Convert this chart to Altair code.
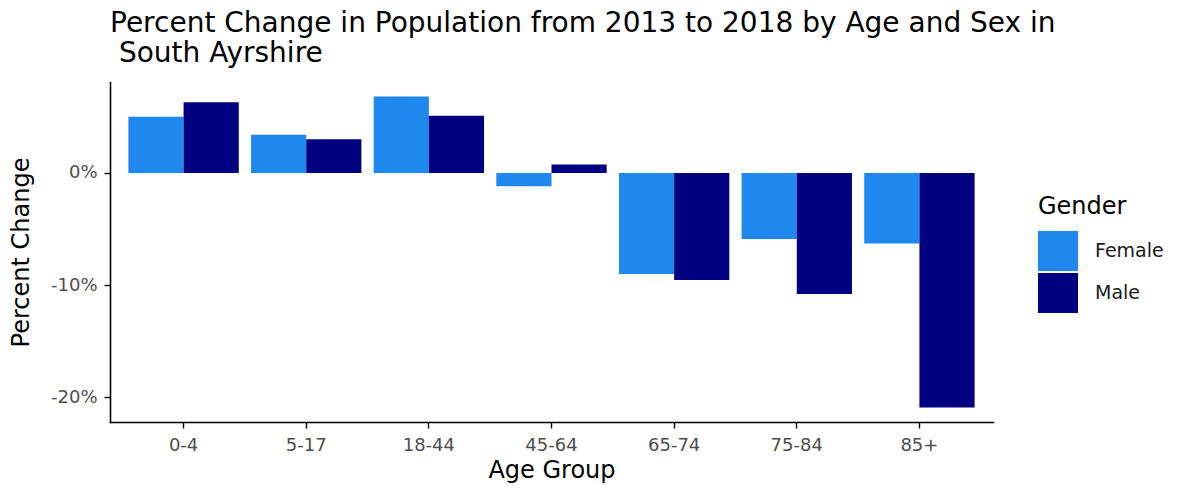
import altair as alt
import pandas as pd

age_groups = ["0-4", "5-17", "18-44", "45-64", "65-74", "75-84", "85+"]
female = [5.0, 3.4, 6.8, -1.2, -9.0, -5.9, -6.3]
male = [6.3, 3.0, 5.1, 0.75, -9.55, -10.8, -20.9]
genders = ["Female", "Male"]
colors = ["#1E88EE", "#000080"]

rows = []
for i, a in enumerate(age_groups):
    rows.append({"Age Group": a, "Gender": "Female", "Change": female[i]})
    rows.append({"Age Group": a, "Gender": "Male", "Change": male[i]})
df = pd.DataFrame(rows)

FONT = "DejaVu Sans"

chart = alt.Chart(df).mark_bar().encode(
    x=alt.X("Age Group:N", sort=age_groups,
            scale=alt.Scale(paddingInner=0.1, paddingOuter=0.15),
            axis=alt.Axis(title="Age Group", labelAngle=0, labelColor="#4D4D4D",
                          labelFontSize=18, titleFontSize=24, titleFontWeight="normal",
                          titleColor="black", domainColor="black", domainWidth=1.6,
                          tickColor="black", tickSize=6, tickWidth=1.4,
                          labelBaseline="alphabetic", labelPadding=22,
                          titleY=55, titleBaseline="alphabetic",
                          grid=False, labelFont=FONT, titleFont=FONT)),
    xOffset=alt.XOffset("Gender:N", sort=genders),
    y=alt.Y("Change:Q", scale=alt.Scale(domain=[-22.2, 8.1], nice=False, zero=False),
            axis=alt.Axis(title="Percent Change", values=[-20, -10, 0],
                          labelExpr="datum.value + '%'", labelColor="#4D4D4D",
                          labelFontSize=18, titleFontSize=24, titleFontWeight="normal",
                          titleColor="black", domainColor="black", domainWidth=1.6,
                          tickColor="black", tickSize=6, tickWidth=1.4, labelPadding=7,
                          titleX=-89, titleBaseline="middle",
                          grid=False, labelFont=FONT, titleFont=FONT)),
    color=alt.Color("Gender:N", sort=genders,
                    scale=alt.Scale(domain=genders, range=colors),
                    legend=alt.Legend(title="Gender", orient="none", legendX=928, legendY=113,
                                      symbolType="square", symbolSize=1600,
                                      symbolStrokeWidth=0, titleFontSize=24,
                                      titleFontWeight="normal", titleColor="black",
                                      labelFontSize=19, labelColor="#1a1a1a",
                                      labelOffset=17, rowPadding=2, titlePadding=12,
                                      labelFont=FONT, titleFont=FONT)),
).properties(
    width=883,
    height=340,
    title=alt.TitleParams(
        text=["Percent Change in Population from 2013 to 2018 by Age and Sex in", "\u200b South Ayrshire"],
        anchor="start", frame="group", fontSize=28, fontWeight="normal",
        font=FONT, color="black", offset=14, lineHeight=30),
    autosize=alt.AutoSizeParams(type="none"),
    padding={"left": 102, "top": 74, "right": 180, "bottom": 63},
).configure_view(stroke=None).configure_axis(domainCap="square")

chart.save("out.html", embed_options={"renderer": "svg", "actions": False})
